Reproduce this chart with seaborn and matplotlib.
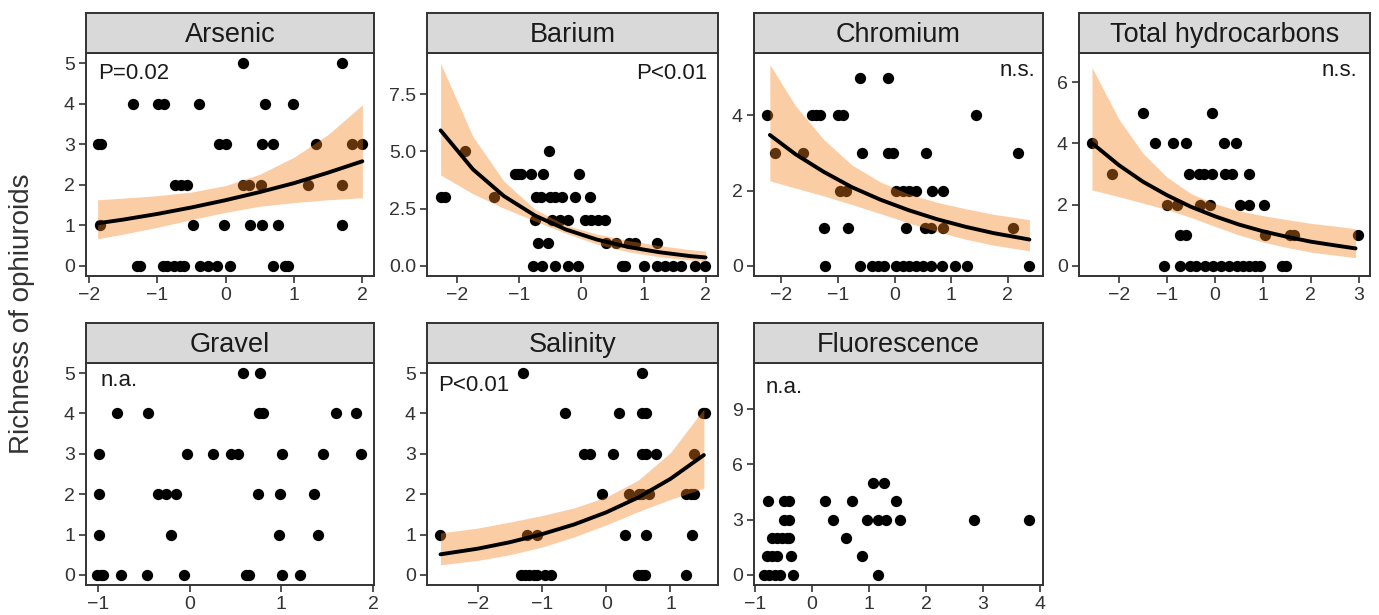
import matplotlib
matplotlib.use("Agg")
import matplotlib.pyplot as plt
import seaborn as sns

# Points (standardised predictor vs richness)
arsenic_x = [0.26, 1.70,
             -1.36, -0.99, -0.90, -0.39, 0.58, 0.99,
             -1.87, -1.82, -0.09, 0.00, 0.54, 0.69, 1.32, 1.85, 2.00,
             -0.74, -0.65, -0.57, 0.25, 0.35, 0.52, 1.20, 1.70,
             -1.84, -0.48, -0.02, 0.36, 0.53, 0.76, 1.70,
             -1.29, -1.25, -0.92, -0.86, -0.76, -0.66, -0.61, -0.38, -0.25, -0.13, 0.06, 0.69, 0.87, 0.92]
arsenic_y = [5, 5,
             4, 4, 4, 4, 4, 4,
             3, 3, 3, 3, 3, 3, 3, 3, 3,
             2, 2, 2, 2, 2, 2, 2, 2,
             1, 1, 1, 1, 1, 1, 1,
             0, 0, 0, 0, 0, 0, 0, 0, 0, 0, 0, 0, 0, 0]

barium_x = [-1.87, -0.52,
            -1.07, -1.02, -0.97, -0.81, -0.62, -0.04,
            -2.27, -2.20, -1.41, -0.73, -0.65, -0.51, -0.42, -0.32, -0.10, 0.13,
            -0.75, -0.48, -0.35, -0.22, 0.06, 0.16, 0.26, 0.38,
            -0.70, -0.54, 0.40, 0.56, 0.77, 0.86, 1.21,
            -0.78, -0.63, -0.43, -0.22, -0.06, 0.65, 0.70, 1.00, 1.21, 1.34, 1.48, 1.61, 1.83, 1.99]
barium_y = [5, 5,
            4, 4, 4, 4, 4, 4,
            3, 3, 3, 3, 3, 3, 3, 3, 3, 3,
            2, 2, 2, 2, 2, 2, 2, 2,
            1, 1, 1, 1, 1, 1, 1,
            0, 0, 0, 0, 0, 0, 0, 0, 0, 0, 0, 0, 0, 0]

chromium_x = [-0.61, -0.12,
              -2.25, -1.45, -1.38, -1.32, -0.99, -0.91, 1.44,
              -2.11, -1.61, -0.58, -0.11, -0.03, 0.55, 2.18,
              -0.97, -0.86, 0.03, 0.15, 0.25, 0.38, 0.66, 0.85,
              -1.25, -0.82, 0.21, 0.54, 0.65, 0.85, 2.09,
              -1.22, -0.61, -0.40, -0.29, -0.19, 0.03, 0.15, 0.26, 0.38, 0.50, 0.64, 0.84, 1.06, 1.28, 2.38]
chromium_y = [5, 5,
              4, 4, 4, 4, 4, 4, 4,
              3, 3, 3, 3, 3, 3, 3,
              2, 2, 2, 2, 2, 2, 2, 2,
              1, 1, 1, 1, 1, 1, 1,
              0, 0, 0, 0, 0, 0, 0, 0, 0, 0, 0, 0, 0, 0, 0]

thc_x = [-1.49, -0.06,
         -2.56, -1.24, -0.87, -0.60, 0.18, 0.43,
         -2.14, -0.54, -0.33, -0.23, -0.07, 0.22, 0.36, 0.71,
         -1.00, -0.79, -0.30, -0.11, 0.52, 0.71, 1.02,
         -0.73, -0.60, 1.05, 1.56, 1.64, 2.97,
         -1.07, -0.72, -0.51, -0.40, -0.20, -0.03, 0.13, 0.29, 0.45, 0.59, 0.71, 0.83, 0.93, 1.39, 1.48]
thc_y = [5, 5,
         4, 4, 4, 4, 4, 4,
         3, 3, 3, 3, 3, 3, 3, 3,
         2, 2, 2, 2, 2, 2, 2,
         1, 1, 1, 1, 1, 1,
         0, 0, 0, 0, 0, 0, 0, 0, 0, 0, 0, 0, 0, 0, 0]

gravel_x = [0.58, 0.77,
            -0.79, -0.45, 0.76, 0.80, 1.60, 1.81,
            -0.99, -0.03, 0.25, 0.45, 0.53, 1.01, 1.45, 1.87,
            -0.99, -0.35, -0.26, -0.15, 0.75, 0.98, 1.36,
            -0.99, -0.20, 0.97, 1.40,
            -1.01, -0.97, -0.95, -0.75, -0.47, -0.06, 0.61, 0.65, 1.01, 1.20]
gravel_y = [5, 5,
            4, 4, 4, 4, 4, 4,
            3, 3, 3, 3, 3, 3, 3, 3,
            2, 2, 2, 2, 2, 2, 2,
            1, 1, 1, 1,
            0, 0, 0, 0, 0, 0, 0, 0, 0, 0]

salinity_x = [-1.30, 0.55,
              -0.64, 0.20, 0.55, 0.62, 1.50, 1.54,
              -0.34, -0.26, 0.11, 0.55, 0.62, 0.77, 1.36,
              -0.06, 0.35, 0.51, 0.55, 0.66, 1.24, 1.32, 1.37,
              -2.59, -1.24, -1.08, 0.30, 0.62, 1.33,
              -1.33, -1.26, -1.20, -1.13, -1.07, -0.96, -0.86, 0.49, 0.56, 0.61, 1.24]
salinity_y = [5, 5,
              4, 4, 4, 4, 4, 4,
              3, 3, 3, 3, 3, 3, 3,
              2, 2, 2, 2, 2, 2, 2, 2,
              1, 1, 1, 1, 1, 1,
              0, 0, 0, 0, 0, 0, 0, 0, 0, 0, 0]

fluor_x = [1.06, 1.26,
           -0.78, -0.49, -0.40, 0.22, 0.70, 1.47,
           -0.49, -0.41, 0.36, 0.96, 1.15, 1.30, 1.54, 2.84, 3.81,
           -0.70, -0.62, -0.53, -0.44, -0.40, 0.60,
           -0.80, -0.70, -0.62, -0.37, 0.87,
           -0.84, -0.75, -0.66, -0.57, -0.34, 1.15]
fluor_y = [5, 5,
           4, 4, 4, 4, 4, 4,
           3, 3, 3, 3, 3, 3, 3, 3, 3,
           2, 2, 2, 2, 2, 2,
           1, 1, 1, 1, 1,
           0, 0, 0, 0, 0, 0]

# Fitted curves and confidence bands
arsenic_fx = [-1.87, -1.5, -1.0, -0.5, 0.0, 0.5, 1.0, 1.5, 2.0]
arsenic_fit = [1.05, 1.14, 1.28, 1.44, 1.62, 1.82, 2.04, 2.30, 2.58]
arsenic_lo = [0.67, 0.78, 0.95, 1.14, 1.32, 1.47, 1.56, 1.63, 1.68]
arsenic_hi = [1.63, 1.67, 1.73, 1.82, 1.98, 2.26, 2.68, 3.24, 3.97]

barium_fx = [-2.27, -1.75, -1.25, -0.75, -0.25, 0.25, 0.75, 1.25, 1.75, 2.0]
barium_fit = [5.92, 4.22, 3.05, 2.20, 1.59, 1.15, 0.83, 0.60, 0.43, 0.37]
barium_lo = [3.97, 3.15, 2.52, 1.96, 1.42, 0.95, 0.62, 0.40, 0.26, 0.21]
barium_hi = [8.84, 5.65, 3.70, 2.47, 1.78, 1.39, 1.11, 0.89, 0.71, 0.65]

chromium_fx = [-2.2, -1.75, -1.25, -0.75, -0.25, 0.25, 0.75, 1.25, 1.75, 2.38]
chromium_fit = [3.48, 2.97, 2.50, 2.09, 1.76, 1.48, 1.24, 1.04, 0.87, 0.70]
chromium_lo = [2.26, 2.07, 1.86, 1.63, 1.39, 1.14, 0.91, 0.71, 0.55, 0.40]
chromium_hi = [5.35, 4.26, 3.36, 2.68, 2.23, 1.91, 1.69, 1.52, 1.37, 1.23]

thc_fx = [-2.56, -2.0, -1.5, -1.0, -0.5, 0.0, 0.5, 1.0, 1.5, 2.0, 2.5, 2.93]
thc_fit = [4.01, 3.29, 2.75, 2.31, 1.93, 1.62, 1.35, 1.13, 0.95, 0.79, 0.67, 0.57]
thc_lo = [2.48, 2.26, 2.05, 1.84, 1.58, 1.29, 1.01, 0.78, 0.60, 0.45, 0.35, 0.27]
thc_hi = [6.48, 4.79, 3.68, 2.90, 2.36, 2.03, 1.80, 1.64, 1.51, 1.39, 1.30, 1.21]

salinity_fx = [-2.58, -2.0, -1.5, -1.0, -0.5, 0.0, 0.5, 1.0, 1.52]
salinity_fit = [0.51, 0.65, 0.81, 1.01, 1.25, 1.55, 1.92, 2.38, 2.97]
salinity_lo = [0.25, 0.36, 0.50, 0.69, 0.94, 1.24, 1.57, 1.87, 2.15]
salinity_hi = [1.04, 1.16, 1.31, 1.47, 1.66, 1.93, 2.35, 3.03, 4.11]

titles = ["Arsenic", "Barium", "Chromium", "Total hydrocarbons",
          "Gravel", "Salinity", "Fluorescence"]
labels = ["P=0.02", "P<0.01", "n.s.", "n.s.", "n.a.", "P<0.01", "n.a."]

panels = [
    (arsenic_x, arsenic_y, (arsenic_fx, arsenic_fit, arsenic_lo, arsenic_hi)),
    (barium_x, barium_y, (barium_fx, barium_fit, barium_lo, barium_hi)),
    (chromium_x, chromium_y, (chromium_fx, chromium_fit, chromium_lo, chromium_hi)),
    (thc_x, thc_y, (thc_fx, thc_fit, thc_lo, thc_hi)),
    (gravel_x, gravel_y, None),
    (salinity_x, salinity_y, (salinity_fx, salinity_fit, salinity_lo, salinity_hi)),
    (fluor_x, fluor_y, None),
]

# axis settings per panel (limits, ticks, label placement)
xlims = [(-2.04, 2.17), (-2.49, 2.20), (-2.48, 2.62), (-2.83, 3.23),
         (-1.13, 2.01), (-2.79, 1.74), (-1.02, 4.05)]
ylims = [(-0.25, 5.25), (-0.44, 9.3), (-0.27, 5.66), (-0.33, 6.95),
         (-0.25, 5.25), (-0.25, 5.25), (-0.55, 11.5)]
xticks = [[-2, -1, 0, 1, 2], [-2, -1, 0, 1, 2], [-2, -1, 0, 1, 2],
          [-2, -1, 0, 1, 2, 3], [-1, 0, 1, 2], [-2, -1, 0, 1], [-1, 0, 1, 2, 3, 4]]
yticks = [[0, 1, 2, 3, 4, 5], [0, 2.5, 5, 7.5], [0, 2, 4], [0, 2, 4, 6],
          [0, 1, 2, 3, 4, 5], [0, 1, 2, 3, 4, 5], [0, 3, 6, 9]]
label_pos = [(0.043, 0.91, 'left'), (0.962, 0.91, 'right'), (0.972, 0.92, 'right'),
             (0.958, 0.92, 'right'), (0.049, 0.92, 'left'), (0.039, 0.90, 'left'),
             (0.04, 0.89, 'left')]

sns.set_theme(style="white")
plt.rcParams['font.family'] = ['Liberation Sans', 'DejaVu Sans']

W, H = 1379, 615
fig = plt.figure(figsize=(W / 100, H / 100), dpi=100)

lefts = [86, 427, 754, 1079]
widths = [288, 291, 289, 291]
rows = [(53, 276, 13), (363, 585, 323)]  # axes top, axes bottom, strip top (px)

edge = '#333333'
for i, (px, py, fit) in enumerate(panels):
    r, c = divmod(i, 4)
    top, bot, stop = rows[r]
    l = lefts[c] / W
    w = widths[c] / W
    ax = fig.add_axes([l, 1 - bot / H, w, (bot - top) / H])

    sns.scatterplot(x=px, y=py, ax=ax, color='black', s=66, linewidth=0, zorder=2)
    if fit is not None:
        fx, fy, lo, hi = fit
        ax.fill_between(fx, lo, hi, color='#F5821F', alpha=0.4, linewidth=0, zorder=3)
        sns.lineplot(x=fx, y=fy, ax=ax, color='black', linewidth=2.8,
                     estimator=None, sort=False, zorder=4)

    ax.set_xlim(*xlims[i])
    ax.set_ylim(*ylims[i])
    ax.set_xticks(xticks[i])
    ax.set_yticks(yticks[i])
    ax.set_xlabel('')
    ax.set_ylabel('')
    ax.tick_params(axis='both', which='both', direction='out', length=5, width=1.2,
                   color=edge, labelsize=14, labelcolor='#333333', pad=3,
                   bottom=True, left=True)
    for sp in ax.spines.values():
        sp.set_color(edge)
        sp.set_linewidth(1.4)
    tx, ty, ha = label_pos[i]
    ax.text(tx, ty, labels[i], transform=ax.transAxes, ha=ha, va='center',
            fontsize=16, color='#1a1a1a')

    # facet strip
    sax = fig.add_axes([l, 1 - top / H, w, (top - stop) / H])
    sax.set_facecolor('#D9D9D9')
    sax.set_xticks([])
    sax.set_yticks([])
    for sp in sax.spines.values():
        sp.set_color(edge)
        sp.set_linewidth(1.4)
    sax.text(0.5, 0.46, titles[i], ha='center', va='center', fontsize=19.5,
             color='#1a1a1a', transform=sax.transAxes)

fig.text(0.016, 0.49, 'Richness of ophiuroids', rotation=90, ha='center',
         va='center', fontsize=20, color='#333333')

fig.savefig('out.png', dpi=100)
